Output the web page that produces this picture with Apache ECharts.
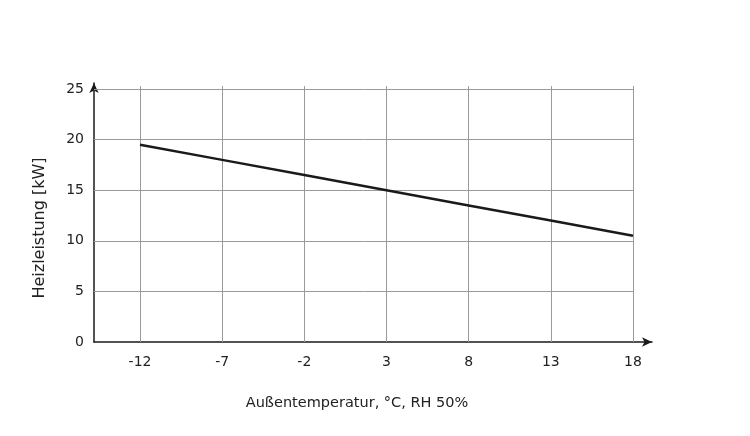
<!DOCTYPE html>
<html><head><meta charset="utf-8">
<script src="https://cdn.jsdelivr.net/npm/echarts@6/dist/echarts.min.js"></script>
<style>html,body{margin:0;padding:0;background:#fff}#c{width:750px;height:436px}</style>
</head><body><div id="c"></div>
<script>
const temps = [-12, -7, -2, 3, 8, 13, 18];
const heating = [19.5, 18.0, 16.5, 15.0, 13.5, 12.0, 10.5];
const yTicks = [0, 5, 10, 15, 20, 25];
const yTitle = 'Heizleistung [kW]';
const xTitle = 'Außentemperatur, °C, RH 50%';

const xMin = -14.8, xMax = 19.16, yMin = 0, yMax = 25.6;
const gridColor = '#9a9a9a';
const font = 'DejaVu Sans';

const gridLines = [];
yTicks.forEach(v => { if (v > 0) gridLines.push([{coord: [xMin, v]}, {coord: [temps[temps.length-1], v]}]); });
temps.forEach(t => gridLines.push([{coord: [t, 0]}, {coord: [t, 25.3]}]));

const chart = echarts.init(document.getElementById('c'), null, {renderer: 'canvas'});
chart.setOption({
  animation: false,
  backgroundColor: '#fff',
  grid: {left: 94, right: 98, top: 83, bottom: 94, containLabel: false},
  xAxis: {
    type: 'value', min: xMin, max: xMax,
    splitLine: {show: false},
    axisLine: {show: true, onZero: false, lineStyle: {color: '#1a1a1a', width: 1.5}, symbol: ['none', 'arrow'], symbolSize: [7, 10]},
    axisTick: {show: false},
    axisLabel: {customValues: temps, margin: 13, color: '#222', fontSize: 14, fontFamily: font}
  },
  yAxis: {
    type: 'value', min: yMin, max: yMax,
    splitLine: {show: false},
    axisLine: {show: true, onZero: false, lineStyle: {color: '#1a1a1a', width: 1.5}, symbol: ['none', 'arrow'], symbolSize: [7, 10]},
    axisTick: {show: false},
    axisLabel: {customValues: yTicks, margin: 10, color: '#222', fontSize: 14, fontFamily: font}
  },
  graphic: [
    {type: 'text', x: 40, y: 228, rotation: Math.PI/2,
     style: {text: yTitle, fill: '#222', font: '16px ' + font, align: 'center', verticalAlign: 'middle'}},
    {type: 'text', x: 357, y: 403,
     style: {text: xTitle, fill: '#222', font: '14.5px ' + font, align: 'center', verticalAlign: 'middle'}}
  ],
  series: [{
    type: 'line',
    data: temps.map((t, i) => [t, heating[i]]),
    symbol: 'none',
    lineStyle: {color: '#1a1a1a', width: 2.5},
    z: 5,
    markLine: {
      silent: true, symbol: ['none', 'none'],
      label: {show: false},
      lineStyle: {color: gridColor, width: 1, type: 'solid'},
      emphasis: {disabled: true},
      data: gridLines,
      z: 1
    }
  }]
});
</script></body></html>
